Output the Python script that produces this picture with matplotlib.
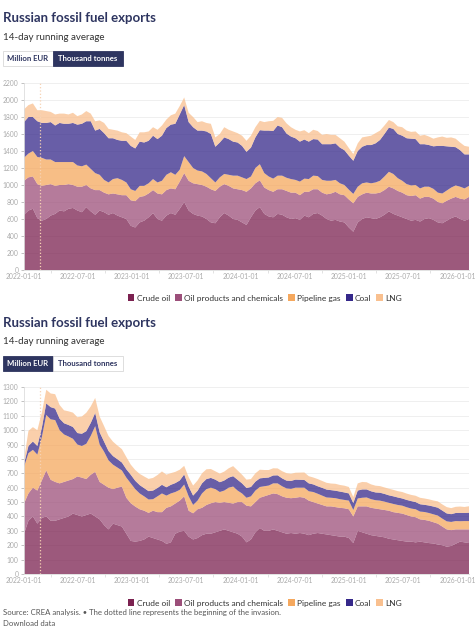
import pandas as pd
import matplotlib.pyplot as plt
import matplotlib.dates as mdates
from matplotlib.patches import Rectangle, Patch

plt.rcParams['font.family'] = ['Lato', 'DejaVu Sans']

# 14-day running average, sampled every 15 days from 2022-01-01
dates = pd.date_range('2022-01-01', periods=101, freq='15D')
invasion = pd.Timestamp('2022-02-24')

fuels = ['Crude oil', 'Oil products and chemicals', 'Pipeline gas', 'Coal', 'LNG']
colors = ['#7b2150', '#9c4f7a', '#f5a85e', '#35288a', '#f9c08f']

# thousand tonnes
crude_t = [650, 700, 720, 610, 580, 600, 640, 660, 700, 690,
           720, 730, 700, 680, 740, 690, 650, 700, 680, 650,
           670, 640, 620, 600, 520, 500, 560, 580, 620, 670,
           600, 580, 640, 670, 650, 720, 800, 700, 660, 640,
           630, 600, 560, 550, 620, 670, 640, 600, 590, 560,
           530, 620, 700, 740, 660, 630, 620, 660, 650, 620,
           600, 610, 590, 640, 620, 660, 670, 640, 600, 580,
           590, 570, 560, 500, 450, 560, 600, 620, 610, 600,
           620, 650, 690, 660, 640, 620, 600, 580, 590, 570,
           600, 610, 590, 560, 550, 580, 610, 630, 600, 580, 600]
oilprod_t = [400, 390, 380, 400, 410, 400, 370, 330, 300, 310,
             290, 270, 280, 300, 260, 270, 290, 240, 230, 240,
             230, 250, 260, 280, 300, 310, 300, 290, 280, 270,
             300, 310, 300, 290, 300, 320, 340, 350, 360, 370,
             370, 380, 390, 380, 360, 340, 350, 360, 360, 380,
             390, 340, 320, 315, 310, 310, 300, 290, 300, 310,
             310, 300, 290, 280, 300, 290, 280, 270, 290, 320,
             330, 320, 320, 330, 335, 300, 290, 290, 290, 300,
             290, 290, 290, 300, 290, 290, 280, 290, 290, 270,
             260, 250, 250, 240, 235, 235, 230, 230, 240, 250, 260]
pipeline_t = [270, 280, 300, 320, 330, 300, 290, 280, 270, 270,
              260, 270, 250, 240, 240, 230, 200, 180, 150, 140,
              170, 190, 180, 150, 130, 120, 130, 120, 120, 130,
              130, 160, 180, 190, 170, 140, 200, 220, 180, 160,
              160, 150, 130, 100, 110, 120, 130, 150, 160, 150,
              150, 140, 180, 190, 170, 160, 155, 160, 160, 155,
              160, 150, 160, 155, 150, 160, 155, 150, 160, 150,
              140, 130, 120, 115, 110, 120, 130, 120, 120, 130,
              140, 160, 175, 170, 150, 140, 130, 125, 120, 120,
              120, 120, 115, 110, 115, 120, 130, 135, 140, 130, 130]
coal_t = [420, 430, 400, 420, 410, 430, 440, 430, 460, 450,
          450, 460, 480, 500, 510, 560, 500, 540, 550, 520,
          480, 450, 460, 490, 510, 500, 520, 510, 500, 510,
          510, 530, 550, 560, 600, 650, 600, 470, 480, 470,
          480, 500, 520, 420, 410, 430, 420, 400, 390, 370,
          320, 340, 360, 400, 500, 540, 560, 590, 570, 520,
          500, 490, 470, 460, 440, 430, 430, 420, 430, 430,
          430, 420, 410, 400, 390, 420, 430, 440, 450, 460,
          480, 500, 520, 530, 520, 530, 540, 550, 540, 520,
          500, 490, 500, 550, 560, 520, 480, 450, 430, 400, 370]
lng_t = [150, 140, 160, 130, 150, 140, 120, 130, 110, 120,
         110, 120, 100, 110, 120, 90, 110, 100, 120, 110,
         100, 110, 100, 90, 110, 100, 110, 120, 110, 100,
         110, 120, 100, 110, 120, 100, 90, 110, 120, 100,
         110, 100, 120, 110, 100, 120, 110, 120, 110, 120,
         130, 140, 120, 110, 100, 110, 120, 100, 110, 120,
         110, 100, 120, 110, 100, 110, 100, 110, 120, 110,
         100, 110, 100, 90, 80, 90, 110, 100, 110, 120,
         110, 100, 90, 80, 90, 100, 90, 80, 90, 100,
         110, 100, 90, 100, 110, 100, 110, 100, 90, 100, 90]

# million EUR
crude_e = [280, 370, 400, 350, 390, 400, 370, 370, 380, 390,
           400, 420, 410, 400, 410, 420, 400, 380, 340, 310,
           350, 340, 330, 280, 230, 225, 230, 240, 260, 250,
           240, 230, 210, 220, 280, 295, 300, 260, 240, 250,
           270, 280, 280, 290, 300, 310, 300, 290, 280, 260,
           220, 240, 290, 320, 300, 300, 310, 300, 290, 280,
           285, 280, 285, 280, 270, 280, 285, 280, 275, 270,
           265, 260, 260, 250, 215, 300, 290, 280, 270, 265,
           260, 255, 245, 240, 235, 230, 225, 225, 220, 225,
           220, 215, 212, 205, 200, 190, 195, 210, 225, 220, 215]
oilprod_e = [210, 190, 200, 230, 260, 320, 285, 270, 250, 250,
             250, 240, 268, 270, 250, 270, 310, 260, 280, 290,
             240, 260, 278, 250, 262, 244, 220, 200, 165, 190,
             190, 200, 250, 250, 210, 215, 240, 180, 182, 200,
             190, 200, 212, 210, 195, 190, 195, 200, 220, 240,
             255, 230, 210, 210, 240, 250, 250, 255, 250, 250,
             242, 250, 250, 250, 240, 220, 205, 200, 195, 200,
             200, 200, 197, 200, 185, 170, 180, 190, 190, 190,
             190, 190, 195, 190, 190, 190, 185, 175, 175, 155,
             156, 155, 148, 145, 130, 120, 110, 100, 85, 90, 95]
pipeline_e = [255, 280, 263, 250, 300, 386, 420, 430, 370, 330,
              306, 280, 222, 220, 245, 270, 318, 260, 230, 190,
              170, 140, 112, 140, 138, 121, 110, 100, 93, 80,
              110, 130, 85, 90, 80, 75, 82, 100, 58, 60,
              100, 110, 108, 90, 75, 80, 105, 118, 80, 60,
              55, 70, 80, 75, 70, 65, 70, 75, 70, 65,
              65, 70, 65, 70, 65, 70, 68, 65, 62, 60,
              62, 60, 58, 60, 45, 55, 60, 62, 60, 58,
              60, 58, 55, 57, 55, 55, 54, 55, 55, 54,
              55, 54, 55, 56, 55, 56, 57, 58, 57, 58, 58]
coal_e = [20, 50, 58, 60, 65, 80, 85, 80, 80, 78,
          80, 82, 80, 85, 88, 90, 92, 85, 70, 65,
          60, 58, 55, 58, 60, 58, 58, 57, 58, 60,
          58, 60, 58, 60, 62, 65, 70, 68, 65, 68,
          70, 70, 68, 66, 68, 70, 70, 72, 75, 70,
          68, 65, 62, 60, 58, 56, 55, 56, 55, 54,
          55, 56, 55, 54, 55, 53, 52, 54, 55, 53,
          52, 53, 52, 50, 48, 55, 58, 56, 55, 54,
          55, 54, 52, 53, 52, 50, 51, 52, 50, 51,
          50, 52, 54, 55, 56, 55, 54, 56, 58, 56, 58]
lng_e = [30, 105, 100, 110, 105, 95, 95, 100, 95, 90,
         95, 100, 110, 120, 128, 115, 104, 110, 108, 104,
         100, 95, 93, 85, 70, 75, 78, 81, 85, 88,
         90, 93, 88, 81, 78, 75, 60, 65, 70, 72,
         70, 68, 62, 58, 60, 62, 65, 70, 65, 60,
         58, 55, 58, 60, 55, 52, 50, 48, 50, 52,
         50, 48, 50, 52, 50, 48, 50, 48, 47, 46,
         48, 46, 47, 45, 42, 50, 52, 50, 48, 47,
         46, 45, 46, 45, 44, 45, 44, 43, 44, 45,
         44, 43, 42, 44, 43, 44, 42, 43, 44, 42, 45]

W, H = 475, 630
fig = plt.figure(figsize=(W / 100, H / 100), dpi=100)

navy = '#2e3560'


def fx(px):
    return px / W


def fy(py):
    return 1 - py / H


def header(top, selected):
    fig.text(fx(3), fy(top), 'Russian fossil fuel exports', fontsize=9.5,
             fontweight='bold', color=navy, va='center')
    fig.text(fx(3), fy(top + 19), '14-day running average', fontsize=7,
             color='#333333', va='center')
    by = top + 33
    bh = 15
    for label, x0, w in [('Million EUR', 3, 50), ('Thousand tonnes', 53, 70)]:
        sel = label == selected
        fig.patches.append(Rectangle((fx(x0), fy(by + bh)), w / W, bh / H,
                                     transform=fig.transFigure,
                                     facecolor=navy if sel else 'white',
                                     edgecolor=navy if sel else '#d8d8d8',
                                     linewidth=0.6))
        fig.text(fx(x0 + w / 2), fy(by + bh / 2), label, fontsize=5.6,
                 fontweight='bold', color='white' if sel else navy,
                 ha='center', va='center')


def panel(ax, series, ymax, ystep):
    ax.stackplot(dates, *series, colors=colors, alpha=0.75, linewidth=0)
    ax.axvline(invasion, color='#f7d3b4', linestyle=':', linewidth=0.9)
    ax.set_xlim(dates[0], dates[-1])
    ax.set_ylim(0, ymax)
    ax.set_yticks(range(0, ymax + 1, ystep))
    ax.xaxis.set_major_locator(mdates.MonthLocator(bymonth=[1, 7]))
    ax.xaxis.set_major_formatter(mdates.DateFormatter('%Y-%m-%d'))
    ax.xaxis.set_minor_locator(mdates.MonthLocator(bymonth=[4, 10]))
    ax.grid(axis='y', color='#ececec', linewidth=0.6)
    ax.set_axisbelow(True)
    for s in ['top', 'right']:
        ax.spines[s].set_visible(False)
    for s in ['left', 'bottom']:
        ax.spines[s].set_color('#dddddd')
        ax.spines[s].set_linewidth(0.6)
    ax.tick_params(labelsize=4.9, colors='#aaaaaa', length=2, width=0.5, pad=2)
    ax.tick_params(axis='x', which='major', length=0)
    ax.tick_params(axis='x', which='minor', length=2, color='#dddddd')


def legend(cy):
    handles = [Patch(facecolor=c, edgecolor='none') for c in colors]
    fig.legend(handles, fuels, loc='center', bbox_to_anchor=(fx(265), fy(cy)),
               ncol=5, frameon=False, fontsize=6, handlelength=0.8,
               handleheight=0.9, handletextpad=0.3, columnspacing=0.6,
               labelcolor='#333333')


header(18, 'Thousand tonnes')
ax1 = fig.add_axes([fx(24), fy(270), (469 - 24) / W, (270 - 83) / H])
panel(ax1, [crude_t, oilprod_t, pipeline_t, coal_t, lng_t], 2200, 200)
legend(298)

header(323, 'Million EUR')
ax2 = fig.add_axes([fx(24), fy(574), (469 - 24) / W, (574 - 387) / H])
panel(ax2, [crude_e, oilprod_e, pipeline_e, coal_e, lng_e], 1300, 100)
legend(603)

fig.text(fx(3), fy(613), 'Source: CREA analysis. \u2022 The dotted line represents '
         'the beginning of the invasion.', fontsize=5.6, color='#555555', va='center')
fig.text(fx(3), fy(624), 'Download data', fontsize=5.6, color='#555555', va='center')

fig.savefig('out.png', dpi=100)
